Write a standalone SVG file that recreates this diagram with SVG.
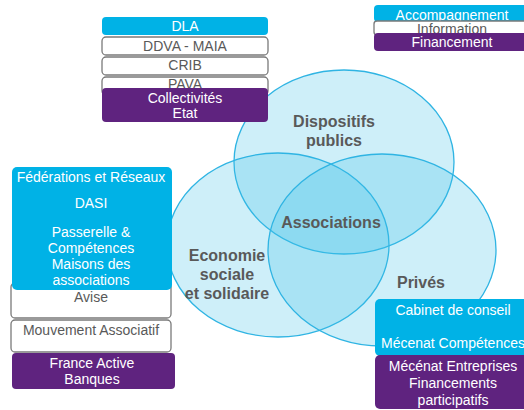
<svg xmlns="http://www.w3.org/2000/svg" width="524" height="410" viewBox="0 0 524 410">
<style>
.ell{fill:#3cbfe8;fill-opacity:0.25;stroke:#2fb4e3;stroke-width:1.3}
.lbl{font-family:"Liberation Sans",Arial,sans-serif;font-size:16px;font-weight:bold;fill:#595959;text-anchor:middle}
.cy{fill:#00b2e6}
.pu{fill:#5f237f}
.wh{fill:#ffffff;stroke:#7a7a7a;stroke-width:1.3}
.t{font-family:"Liberation Sans",Arial,sans-serif;font-size:14px;text-anchor:middle}
.tw{fill:#ffffff}
.tg{fill:#595959}
</style>
<g id="circles">
<ellipse id="c-publics" class="ell" cx="344" cy="162" rx="110" ry="92"/>
<ellipse id="c-ess" class="ell" cx="278" cy="245" rx="111" ry="92"/>
<ellipse id="c-prives" class="ell" cx="382" cy="250" rx="114" ry="96"/>
</g>
<g id="circle-labels">
<text class="lbl" x="334" y="127">Dispositifs</text>
<text class="lbl" x="334" y="146">publics</text>
<text class="lbl" x="331" y="228">Associations</text>
<text class="lbl" x="227" y="261">Economie</text>
<text class="lbl" x="227" y="280">sociale</text>
<text class="lbl" x="227" y="299">et solidaire</text>
<text class="lbl" x="421" y="288">Privés</text>
</g>
<g id="top-left">
<g id="dla"><rect class="cy" x="102" y="17" width="166" height="18" rx="4"/><text class="t tw" x="185" y="31">DLA</text></g>
<g id="ddva"><rect class="wh" x="102" y="37" width="166" height="18" rx="4"/><text class="t tg" x="185" y="51">DDVA - MAIA</text></g>
<g id="crib"><rect class="wh" x="102" y="57" width="166" height="18" rx="4"/><text class="t tg" x="185" y="70">CRIB</text></g>
<g id="pava"><rect class="wh" x="102" y="77" width="166" height="18" rx="4"/><text class="t tg" x="185" y="89">PAVA</text></g>
<g id="collectivites"><rect class="pu" x="102" y="88" width="166" height="34" rx="4"/><text class="t tw" x="185" y="103">Collectivités</text><text class="t tw" x="185" y="118">Etat</text></g>
</g>
<g id="top-right">
<g id="accompagnement"><rect class="cy" x="374" y="5" width="156" height="17" rx="4"/><text class="t tw" x="452" y="20">Accompagnement</text></g>
<g id="information"><rect class="wh" x="374" y="21" width="156" height="14" rx="3"/><text class="t tg" x="452" y="34">Information</text></g>
<g id="financement"><rect class="pu" x="374" y="33" width="156" height="18" rx="4"/><text class="t tw" x="452" y="47">Financement</text></g>
</g>
<g id="left-stack">
<g id="avise"><rect class="wh" x="11" y="283" width="160" height="35" rx="4"/><text class="t tg" x="91" y="302">Avise</text></g>
<g id="mouvement"><rect class="wh" x="11" y="320" width="160" height="32" rx="4"/><text class="t tg" x="91" y="335">Mouvement Associatif</text></g>
<g id="france-active"><rect class="pu" x="12" y="353" width="163" height="36" rx="4"/><text class="t tw" x="92" y="368">France Active</text><text class="t tw" x="92" y="384">Banques</text></g>
<g id="federations"><rect class="cy" x="12" y="167" width="160" height="123" rx="5"/>
<text class="t tw" x="91" y="182">Fédérations et Réseaux</text>
<text class="t tw" x="91" y="208">DASI</text>
<text class="t tw" x="91" y="237">Passerelle &amp;</text>
<text class="t tw" x="91" y="253">Compétences</text>
<text class="t tw" x="91" y="269">Maisons des</text>
<text class="t tw" x="91" y="285">associations</text></g>
</g>
<g id="bottom-right">
<g id="cabinet"><rect class="cy" x="375" y="299" width="156" height="57" rx="5"/><text class="t tw" x="453" y="315">Cabinet de conseil</text><text class="t tw" x="453" y="348">Mécenat Compétences</text></g>
<g id="mecenat"><rect class="pu" x="375" y="355" width="156" height="54" rx="5"/><text class="t tw" x="453" y="371">Mécénat Entreprises</text><text class="t tw" x="453" y="388">Financements</text><text class="t tw" x="453" y="405">participatifs</text></g>
</g>
</svg>
